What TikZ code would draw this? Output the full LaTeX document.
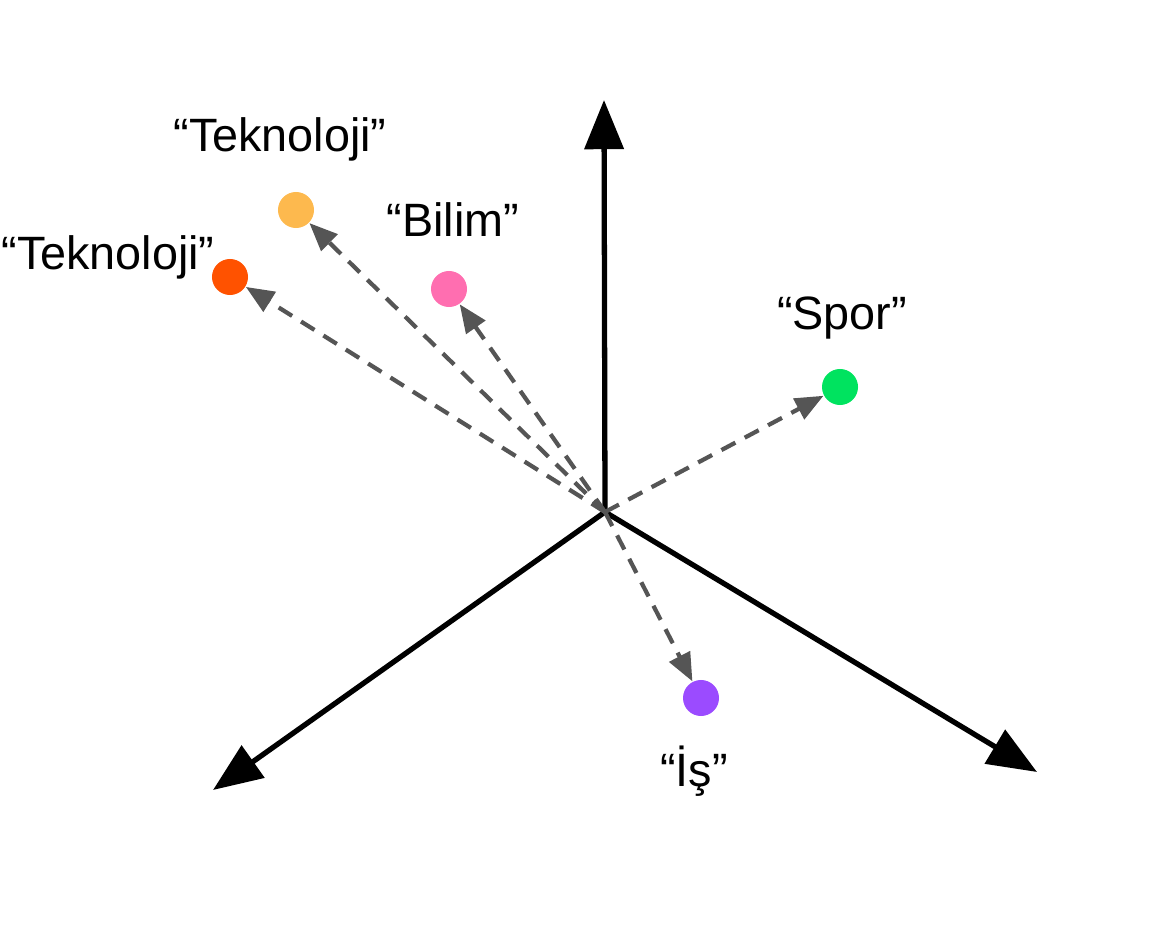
\documentclass[tikz,border=0pt]{standalone}
\usepackage{fontspec}
\setmainfont{Liberation Sans}
\usetikzlibrary{arrows.meta}

\definecolor{tekyellow}{HTML}{FDB94E}
\definecolor{tekorange}{HTML}{FF5200}
\definecolor{bilimpink}{HTML}{FF6EB0}
\definecolor{sporgreen}{HTML}{00E35F}
\definecolor{ispurple}{HTML}{9B4BFF}
\definecolor{dashgray}{HTML}{555555}

\begin{document}
\begin{tikzpicture}[x=0.01cm, y=-0.01cm,
    axis/.style ={line width=1.5pt, -{Triangle[length=14pt, width=11pt]}},
    vector/.style ={dashgray, line width=1.2pt, dash pattern=on 4.5pt off 3pt,
                    -{Triangle[length=8pt, width=6.5pt]}},
    word/.style ={circle, minimum size=0.36cm, inner sep=0pt},
    wordlabel/.style ={font=\fontsize{13.3}{16}\selectfont, inner sep=0pt}]
   \useasboundingbox (0,0) rectangle (1152,928);

   \coordinate (O) at (605,512);
   \coordinate (up) at (604,100);
   \coordinate (left) at (213,790);
   \coordinate (right) at (1037,772);

   \node[word,fill=tekyellow] (A) at (296,210) {};
   \node[word,fill=tekorange] (B) at (230,277) {};
   \node[word,fill=bilimpink] (C) at (449,289) {};
   \node[word,fill=sporgreen] (D) at (840,387) {};
   \node[word,fill=ispurple]  (E) at (701,698) {};

   \node[wordlabel] (LA) at (280,139) {“Teknoloji”};
   \node[wordlabel] (LB) at (108,257) {“Teknoloji”};
   \node[wordlabel] (LC) at (453,220) {“Bilim”};
   \node[wordlabel] (LD) at (842,318) {“Spor”};
   \node[wordlabel] (LE) at (694,771) {“İş”};

   \draw[axis] (O) to (up);
   \draw[axis] (O) to (left);
   \draw[axis] (O) to (right);

   \draw[vector] (O) to (A);
   \draw[vector] (O) to (B);
   \draw[vector] (O) to (C);
   \draw[vector] (O) to (D);
   \draw[vector] (O) to (E);
 \end{tikzpicture}
\end{document}
